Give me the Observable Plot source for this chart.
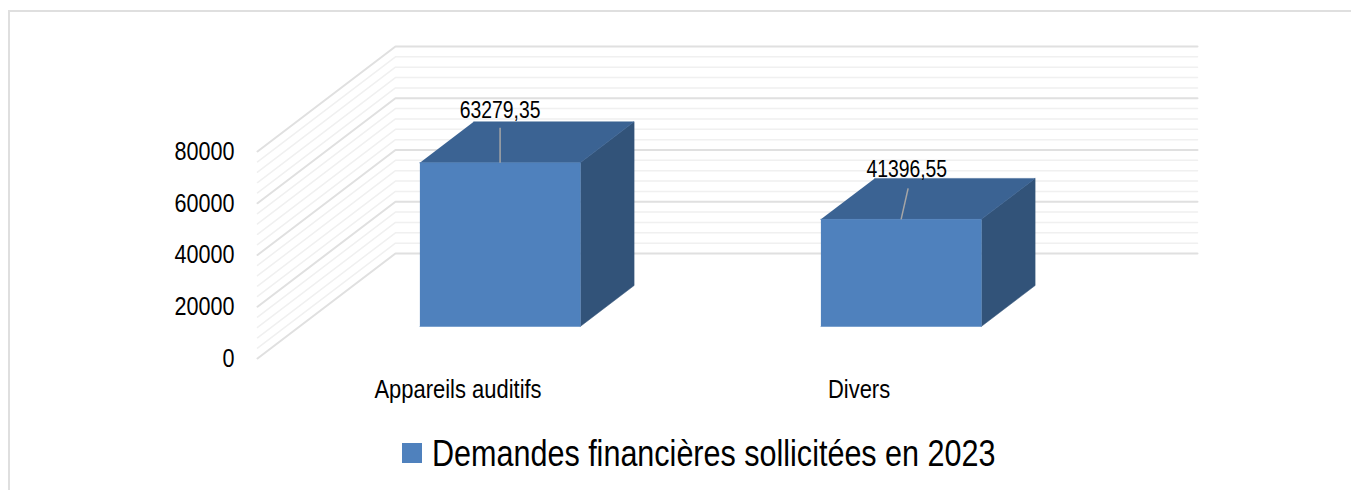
<!DOCTYPE html>
<html lang="fr">
<head>
<meta charset="utf-8">
<script src="https://cdn.jsdelivr.net/npm/d3@7"></script>
<script src="https://cdn.jsdelivr.net/npm/@observablehq/plot@0.6"></script>
<style>
  html, body { margin: 0; padding: 0; background: #fff; overflow: hidden; }
  #page { position: relative; width: 1351px; height: 490px; overflow: hidden; font-family: "Liberation Sans", sans-serif; }
  #frame { position: absolute; left: 8px; top: 10px; width: 1400px; height: 600px; border: 2px solid #dfdfdf; box-sizing: border-box; }
  #chart { position: absolute; left: 0; top: 0; }
  #legend { position: absolute; left: 402px; top: 434px; display: flex; align-items: center; height: 38px; font-size: 34px; color: #000; white-space: nowrap; }
  #legend i { display: block; width: 20px; height: 20px; background: #4f81bd; margin-right: 10px; }
  #legend span { display: inline-block; transform: scale(0.898, 1.07); transform-origin: left center; }
</style>
</head>
<body>
<div id="page">
  <div id="frame"></div>
  <div id="chart"></div>
  <div id="legend"></div>
</div>
<script>
// Data
const categories = ["Appareils auditifs", "Divers"];
const values = [63279.35, 41396.55];
const valueLabels = ["63279,35", "41396,55"];
const seriesName = "Demandes financières sollicitées en 2023";
const yTicks = [0, 20000, 40000, 60000, 80000];
const minorTicks = [4000, 8000, 12000, 16000, 24000, 28000, 32000, 36000, 44000, 48000, 52000, 56000, 64000, 68000, 72000, 76000];

// Oblique projection, in data units
const depthX = 0.344;      // category bands covered by the full floor depth
const depthY = 40580;      // value units covered by the full floor depth
const zFront = 0.305, zBack = 0.695;
const barHalf = 0.2;
const leaderLift = [13500, 12000];
const leaderLean = [0, 0.0175];
const labelLift = [20100, 19300];
const labelLean = [0, 0.014];
const project = (c, v, z) => ({x: c + z * depthX, y: v + z * depthY});

const quad = (pts) => pts.map(([c, v, z]) => project(c, v, z));
const bars = values.map((v, i) => {
  const l = i + 0.5 - barHalf, r = i + 0.5 + barHalf;
  return {
    front: quad([[l, 0, zFront], [r, 0, zFront], [r, v, zFront], [l, v, zFront]]),
    top: quad([[l, v, zFront], [r, v, zFront], [r, v, zBack], [l, v, zBack]]),
    side: quad([[r, 0, zFront], [r, 0, zBack], [r, v, zBack], [r, v, zFront]]),
    anchor: project(i + 0.5, v, zFront)
  };
});

const wall = (v) => [
  {v, x: 0, y: v},
  {v, x: depthX, y: v + depthY},
  {v, x: categories.length + depthX, y: v + depthY}
];
const majorLines = yTicks.flatMap(wall);
const minorLines = minorTicks.flatMap(wall);

const leaders = bars.map((b, i) => ({
  x1: b.anchor.x, y1: b.anchor.y,
  x2: b.anchor.x + leaderLean[i], y2: b.anchor.y + leaderLift[i]
}));
const labels = bars.map((b, i) => ({
  x: b.anchor.x + labelLean[i], y: b.anchor.y + labelLift[i], text: valueLabels[i]
}));

const face = (key, fill) => bars.map((b) => Plot.line(b[key], {x: "x", y: "y", fill, stroke: fill, strokeWidth: 0.5}));

// The reference face is a condensed sans; squeeze each text around its own anchor.
const condense = (sx, sy = 1) => (index, scales, values, dims, context, next) => {
  const g = next(index, scales, values, dims, context);
  g.querySelectorAll("text").forEach((t) => {
    t.setAttribute("transform", `${t.getAttribute("transform") || ""} scale(${sx},${sy})`);
  });
  return g;
};

const chart = Plot.plot({
  width: 1351,
  height: 430,
  marginLeft: 257,
  marginRight: 154,
  marginTop: 46,
  marginBottom: 72,
  style: {background: "transparent", fontFamily: '"Liberation Sans", sans-serif', color: "#000"},
  x: {domain: [0, categories.length + depthX], axis: null},
  y: {domain: [0, 80000 + depthY], axis: null},
  marks: [
    Plot.line(minorLines, {x: "x", y: "y", z: "v", stroke: "#f0f0f0", strokeWidth: 1.5}),
    Plot.line(majorLines, {x: "x", y: "y", z: "v", stroke: "#e0e0e0", strokeWidth: 2}),
    Plot.axisY({ticks: yTicks, tickSize: 0, tickPadding: 23, tickFormat: (d) => String(d), fontSize: 24, label: null, fill: "#000", render: condense(0.9, 1.1)}),
    Plot.axisX({ticks: categories.map((_, i) => i + 0.5), tickSize: 0, tickPadding: 21, tickFormat: (d) => categories[Math.floor(d)], fontSize: 24, label: null, fill: "#000", render: condense(0.915, 1.1)}),
    ...face("side", "#325379"),
    ...face("top", "#3b6393"),
    ...face("front", "#4f81bd"),
    Plot.link(leaders, {x1: "x1", y1: "y1", x2: "x2", y2: "y2", stroke: "#a6a6a6", strokeWidth: 1.5}),
    Plot.text(labels, {x: "x", y: "y", text: "text", fontSize: 22, fill: "#000", lineAnchor: "middle", render: condense(0.88, 1.05)})
  ]
});
document.getElementById("chart").append(chart);

const legend = document.getElementById("legend");
const legendText = document.createElement("span");
legendText.textContent = seriesName;
legend.append(document.createElement("i"), legendText);
</script>
</body>
</html>
